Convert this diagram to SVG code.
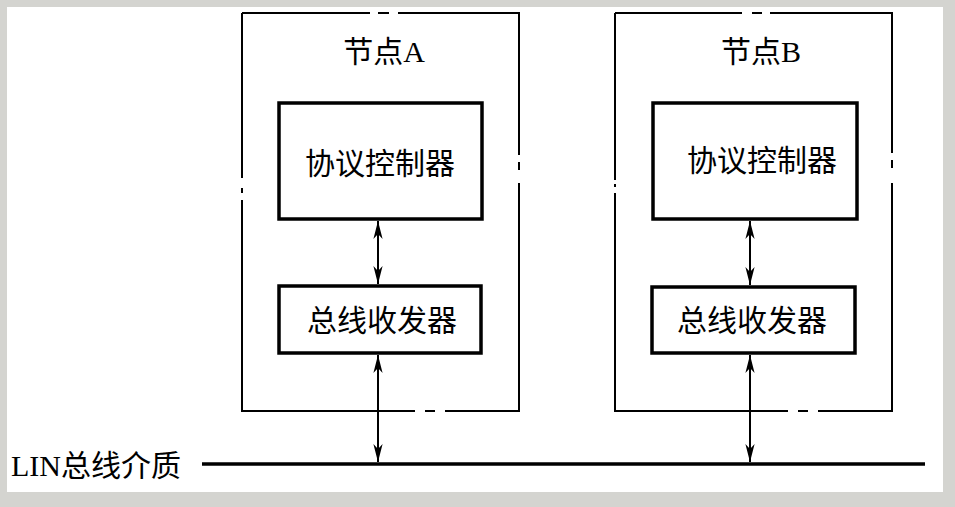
<svg xmlns="http://www.w3.org/2000/svg" width="955" height="507" viewBox="0 0 955 507">
<style>
.bg{fill:#d4d4d0}
.paper{fill:#ffffff}
.outer{fill:none;stroke:#000;stroke-width:2}
.inner{fill:none;stroke:#000;stroke-width:3.5}
.conn{fill:none;stroke:#000;stroke-width:2}
.bus{fill:none;stroke:#000;stroke-width:3.5}
text{font-family:"Liberation Serif","Noto Sans CJK SC",serif;font-size:30px;fill:#000}
.c{text-anchor:middle}
</style>
<defs>
<marker id="ah" viewBox="-20 -6 22 12" refX="0" refY="0" markerWidth="22" markerHeight="12" markerUnits="userSpaceOnUse" orient="auto-start-reverse">
<path d="M0,0 L-18,-4.6 L-13,0 L-18,4.6 Z" fill="#000"/>
</marker>
</defs>
<rect class="bg" x="0" y="0" width="955" height="507"/>
<rect class="paper" x="7" y="7" width="936" height="485"/>

<g id="nodeA">
<path class="outer" d="M242,13 H370 M378,13 H389 M398,13 H519 V155 M519,162 V170 M519,183 V411 H445 M435,411 H425 M415,411 H242 V200 M242,193 V188 M242,178 V13"/>
<text class="c" x="384" y="62">节点A</text>
</g>
<g id="ctrlA">
<rect class="inner" x="279" y="103" width="203" height="116"/>
<text class="c" x="380" y="174">协议控制器</text>
</g>
<g id="xcvrA">
<rect class="inner" x="279" y="286" width="202" height="67"/>
<text class="c" x="382" y="331">总线收发器</text>
</g>

<g id="nodeB">
<path class="outer" d="M615,13 H742 M752,13 H762 M770,13 H892 V153 M892,160 V168 M892,183 V411 H818 M808,411 H798 M788,411 H615 V193 M615,187 V184 M615,180 V13"/>
<text class="c" x="761" y="62">节点B</text>
</g>
<g id="ctrlB">
<rect class="inner" x="653" y="103" width="204" height="116"/>
<text class="c" x="762" y="171">协议控制器</text>
</g>
<g id="xcvrB">
<rect class="inner" x="652" y="287" width="203" height="66"/>
<text class="c" x="752" y="331">总线收发器</text>
</g>

<g id="bus">
<line class="bus" x1="202" y1="464" x2="925" y2="464"/>
<text x="11" y="476">LIN总线介质</text>
</g>

<g id="connectors">
<line class="conn" x1="378" y1="221" x2="378" y2="284" marker-start="url(#ah)" marker-end="url(#ah)"/>
<line class="conn" x1="378" y1="355" x2="378" y2="462" marker-start="url(#ah)" marker-end="url(#ah)"/>
<line class="conn" x1="750" y1="221" x2="750" y2="285" marker-start="url(#ah)" marker-end="url(#ah)"/>
<line class="conn" x1="750" y1="355" x2="750" y2="462" marker-start="url(#ah)" marker-end="url(#ah)"/>
</g>
</svg>
